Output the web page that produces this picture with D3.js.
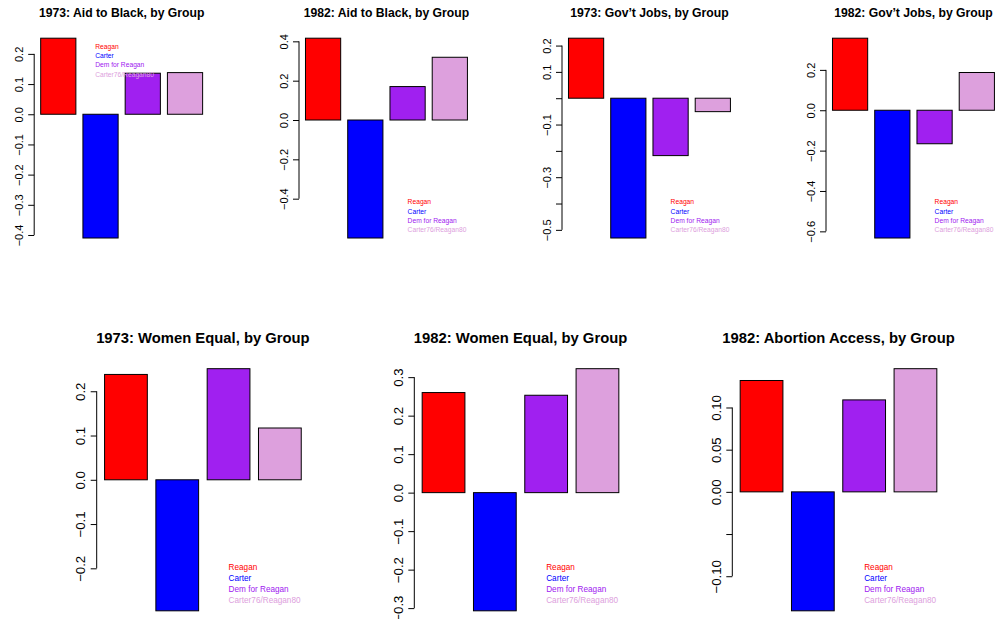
<!DOCTYPE html>
<html>
<head>
<meta charset="utf-8">
<script src="https://cdn.jsdelivr.net/npm/d3@7"></script>
<style>
  html, body { margin: 0; padding: 0; background: #fff; }
  svg { display: block; font-family: "Liberation Sans", Arial, Helvetica, sans-serif; }
</style>
</head>
<body>
<svg id="chart" width="995" height="619"></svg>
<script>
// Voter groups and their bar colours
const categories = ["Reagan", "Carter", "Dem for Reagan", "Carter76/Reagan80"];
const groupColors = ["#FF0000", "#0000FF", "#A020F0", "#DDA0DD"];

// Panel titles
const titles = [
  "1973: Aid to Black, by Group",
  "1982: Aid to Black, by Group",
  "1973: Gov\u2019t Jobs, by Group",
  "1982: Gov\u2019t Jobs, by Group",
  "1973: Women Equal, by Group",
  "1982: Women Equal, by Group",
  "1982: Abortion Access, by Group"
];

// Mean attitude score of each group, per issue
const aidBlack1973 = [0.252, -0.410, 0.136, 0.138];
const aidBlack1982 = [0.416, -0.600, 0.170, 0.319];
const govJobs1973 = [0.228, -0.531, -0.218, -0.051];
const govJobs1982 = [0.357, -0.633, -0.166, 0.187];
const womenEqual1973 = [0.238, -0.296, 0.251, 0.117];
const womenEqual1982 = [0.260, -0.307, 0.253, 0.322];
const abortion1982 = [0.132, -0.141, 0.109, 0.146];

// Y-axis ticks and their printed labels ("" = tick without a label)
const ticksAidBlack1973 = [0.2, 0.1, 0, -0.1, -0.2, -0.3, -0.4];
const labelsAidBlack1973 = ["0.2", "0.1", "0.0", "\u22120.1", "\u22120.2", "\u22120.3", "\u22120.4"];
const ticksAidBlack1982 = [0.4, 0.2, 0, -0.2, -0.4];
const labelsAidBlack1982 = ["0.4", "0.2", "0.0", "\u22120.2", "\u22120.4"];
const ticksGovJobs1973 = [0.2, 0.1, 0, -0.1, -0.2, -0.3, -0.4, -0.5];
const labelsGovJobs1973 = ["0.2", "0.1", "", "\u22120.1", "", "\u22120.3", "", "\u22120.5"];
const ticksGovJobs1982 = [0.2, 0, -0.2, -0.4, -0.6];
const labelsGovJobs1982 = ["0.2", "0.0", "\u22120.2", "\u22120.4", "\u22120.6"];
const ticksWomen1973 = [0.2, 0.1, 0, -0.1, -0.2];
const labelsWomen1973 = ["0.2", "0.1", "0.0", "\u22120.1", "\u22120.2"];
const ticksWomen1982 = [0.3, 0.2, 0.1, 0, -0.1, -0.2, -0.3];
const labelsWomen1982 = ["0.3", "0.2", "0.1", "0.0", "\u22120.1", "\u22120.2", "\u22120.3"];
const ticksAbortion1982 = [0.10, 0.05, 0, -0.05, -0.10];
const labelsAbortion1982 = ["0.10", "0.05", "0.00", "", "\u22120.10"];

const panelValues = [aidBlack1973, aidBlack1982, govJobs1973, govJobs1982,
                     womenEqual1973, womenEqual1982, abortion1982];
const panelTicks = [ticksAidBlack1973, ticksAidBlack1982, ticksGovJobs1973, ticksGovJobs1982,
                    ticksWomen1973, ticksWomen1982, ticksAbortion1982];
const panelLabels = [labelsAidBlack1973, labelsAidBlack1982, labelsGovJobs1973, labelsGovJobs1982,
                     labelsWomen1973, labelsWomen1982, labelsAbortion1982];

// Plot-region geometry: two rows, four small panels on top, three larger below
const topRow = { top: 30.2, width: 174.9, height: 215.8, titleY: 16.5, titleSize: 12.2,
                 tickSize: 11, tickLen: 6, labelGap: 11.5, legendSize: 6.7 };
const bottomRow = { top: 359, width: 212.4, height: 261.5, titleY: 342.5, titleSize: 14.8,
                    tickSize: 13.2, tickLen: 6, labelGap: 11.5, legendSize: 8.2 };
const panels = [
  { row: topRow, left: 34.2, legendAtTop: true },
  { row: topRow, left: 299 },
  { row: topRow, left: 562 },
  { row: topRow, left: 826 },
  { row: bottomRow, left: 96.7 },
  { row: bottomRow, left: 414.3 },
  { row: bottomRow, left: 732.3 }
];

const svg = d3.select("#chart");

panels.forEach((p, k) => {
  const r = p.row;
  const values = panelValues[k];
  const g = svg.append("g").attr("transform", `translate(${p.left},${r.top})`);

  // Bars of width 1 separated by 0.2, plot range padded 4% on each side
  const x = d3.scaleBand()
    .domain(categories)
    .range([0, r.width])
    .paddingInner(1 / 6)
    .paddingOuter(0.1533);

  const lo = d3.min(values), hi = d3.max(values);
  const pad = (hi - lo) * 0.04;
  const y = d3.scaleLinear()
    .domain([lo - pad, hi + pad])
    .range([r.height, 0]);

  // Bars
  g.selectAll("rect.bar")
    .data(values)
    .join("rect")
    .attr("class", "bar")
    .attr("x", (d, i) => x(categories[i]))
    .attr("width", x.bandwidth())
    .attr("y", d => y(Math.max(0, d)))
    .attr("height", d => Math.abs(y(d) - y(0)))
    .attr("fill", (d, i) => groupColors[i])
    .attr("stroke", "#000")
    .attr("stroke-width", 1);

  // Y axis with labels parallel to the axis
  const ticks = panelTicks[k];
  const labels = panelLabels[k];
  const axis = d3.axisLeft(y)
    .tickValues(ticks)
    .tickFormat((d, i) => labels[i])
    .tickSize(r.tickLen)
    .tickSizeOuter(0);
  const ag = g.append("g").call(axis);
  ag.select(".domain").remove();
  ag.selectAll(".tick line").attr("stroke", "#000");
  ag.selectAll(".tick text")
    .attr("transform", "rotate(-90)")
    .attr("text-anchor", "middle")
    .attr("x", 0)
    .attr("y", -r.labelGap)
    .attr("dy", 0)
    .attr("fill", "#000")
    .style("font-size", r.tickSize + "px")
    .style("font-family", "\"Liberation Sans\", Arial, Helvetica, sans-serif");
  ag.append("line")
    .attr("x1", 0).attr("x2", 0)
    .attr("y1", y(d3.max(ticks))).attr("y2", y(d3.min(ticks)))
    .attr("stroke", "#000");

  // Title
  svg.append("text")
    .attr("x", p.left + r.width / 2)
    .attr("y", r.titleY)
    .attr("text-anchor", "middle")
    .attr("font-weight", "bold")
    .style("font-size", r.titleSize + "px")
    .text(titles[k]);

  // Legend: group names written in their own colour
  const lineStep = r.height * 0.0426;
  const legendX = p.legendAtTop ? r.width * 0.349 : r.width * 0.621;
  const legendY = p.legendAtTop ? r.height * 0.076 : r.height * (1 - 0.204);
  g.selectAll("text.legend")
    .data(categories)
    .join("text")
    .attr("class", "legend")
    .attr("x", legendX)
    .attr("y", (d, i) => legendY + i * lineStep)
    .attr("dominant-baseline", "central")
    .attr("fill", (d, i) => groupColors[i])
    .style("font-size", r.legendSize + "px")
    .text(d => d);
});
</script>
</body>
</html>
